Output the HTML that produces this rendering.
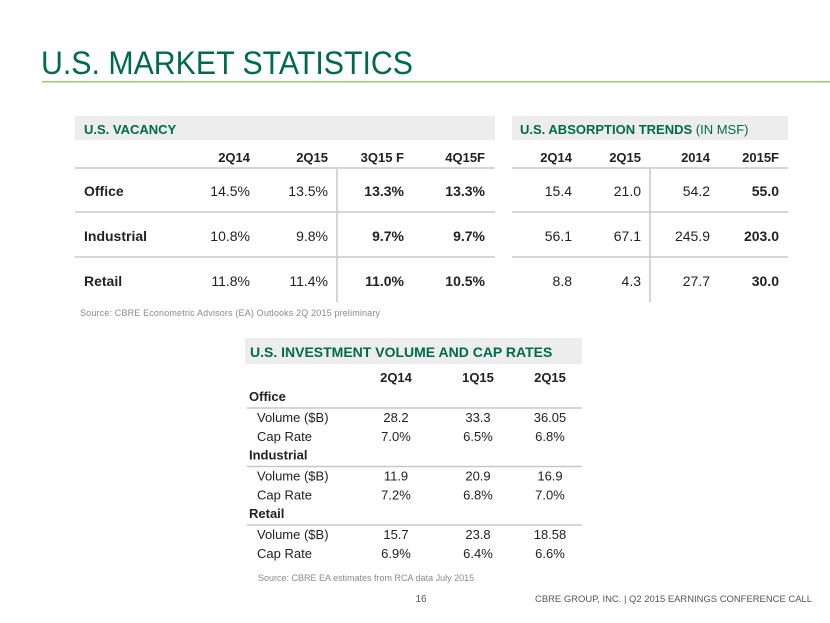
<!DOCTYPE html>
<html><head><meta charset="utf-8"><style>
body{margin:0;background:#fff;}
svg{display:block;font-family:"Liberation Sans",Arial,sans-serif;}
</style></head><body>
<svg width="830" height="623" viewBox="0 0 830 623">
<text x="41" y="74" font-size="32" fill="#006a4d" textLength="372" lengthAdjust="spacingAndGlyphs">U.S. MARKET STATISTICS</text>
<rect x="42" y="81" width="788" height="1.5" fill="#8fd36a"/>
<g id="vac"></g>
<g id="abs"></g>
<g id="inv"></g>
<text x="80" y="316" font-size="9" fill="#8a8a8a" textLength="300" lengthAdjust="spacing">Source:  CBRE Econometric  Advisors  (EA) Outlooks  2Q 2015 preliminary</text>
<text x="258" y="581" font-size="9" fill="#8a8a8a">Source:  CBRE EA estimates  from RCA data July 2015</text>
<text x="421" y="602" font-size="10" fill="#555" text-anchor="middle">16</text>
<text x="812" y="602" font-size="9.5" fill="#555" text-anchor="end" textLength="277" lengthAdjust="spacingAndGlyphs">CBRE GROUP, INC. | Q2 2015 EARNINGS CONFERENCE CALL</text>
</svg>
<script>
const vacCols=["2Q14","2Q15","3Q15 F","4Q15F"];
const vacRows=["Office","Industrial","Retail"];
const vacVals=[["14.5%","13.5%","13.3%","13.3%"],["10.8%","9.8%","9.7%","9.7%"],["11.8%","11.4%","11.0%","10.5%"]];
const absCols=["2Q14","2Q15","2014","2015F"];
const absVals=[["15.4","21.0","54.2","55.0"],["56.1","67.1","245.9","203.0"],["8.8","4.3","27.7","30.0"]];
const invCols=["2Q14","1Q15","2Q15"];
const invGroups=["Office","Industrial","Retail"];
const invVals=[[["Volume ($B)","28.2","33.3","36.05"],["Cap Rate","7.0%","6.5%","6.8%"]],[["Volume ($B)","11.9","20.9","16.9"],["Cap Rate","7.2%","6.8%","7.0%"]],[["Volume ($B)","15.7","23.8","18.58"],["Cap Rate","6.9%","6.4%","6.6%"]]];
const NS="http://www.w3.org/2000/svg";
function el(p,tag,a,txt){const e=document.createElementNS(NS,tag);for(const k in a)e.setAttribute(k,a[k]);if(txt!==undefined)e.textContent=txt;p.appendChild(e);return e;}
function t(p,x,y,s,opt,name){const e=el(p,"text",Object.assign({x:x,y:y,"font-size":14,fill:"#222"},opt),s);


return e;}
function ln(p,x1,y1,x2,y2,name){const e=el(p,"line",{x1:x1,y1:y1,x2:x2,y2:y2,stroke:"#c8c8c8","stroke-width":1.5});

}
function band(p,x,y,w,h,name){const e=el(p,"rect",{x:x,y:y,width:w,height:h,fill:"#ededed"});

}
// vacancy
const V=document.getElementById("vac");
band(V,75,116,420,24,"vacancy-header-band");
t(V,84,134,"U.S. VACANCY",{"font-weight":"bold","font-size":13,fill:"#006a4d"},"vacancy-title");
const vx=[250,328,404,485],rowY=[196,241,286];
vacCols.forEach((c,i)=>t(V,vx[i],162,c,{"text-anchor":"end","font-weight":"bold","font-size":13},"vacancy-col-header"));
ln(V,75,168,495,168,"vacancy-header-rule");ln(V,75,212,495,212,"vacancy-row-rule");ln(V,75,257,495,257,"vacancy-row-rule");
ln(V,337,168,337,302,"vacancy-divider");
vacRows.forEach((r,j)=>{t(V,84,rowY[j],r,{"font-weight":"bold"},"vacancy-row-label");
vacVals[j].forEach((v,i)=>t(V,vx[i],rowY[j],v,{"text-anchor":"end","font-weight":i>=2?"bold":"normal"},"vacancy-cell"));});
// absorption
const A=document.getElementById("abs");
band(A,512,116,276,24,"absorption-header-band");
const at=t(A,520,134,"U.S. ABSORPTION TRENDS",{"font-weight":"bold","font-size":13,fill:"#006a4d"},"absorption-title");
el(at,"tspan",{"font-weight":"normal"}," (IN MSF)");
const ax=[572,641,710,779];
absCols.forEach((c,i)=>t(A,ax[i],162,c,{"text-anchor":"end","font-weight":"bold","font-size":13},"absorption-col-header"));
ln(A,512,168,788,168,"absorption-header-rule");ln(A,512,212,788,212,"absorption-row-rule");ln(A,512,257,788,257,"absorption-row-rule");
ln(A,650,168,650,302,"absorption-divider");
absVals.forEach((row,j)=>row.forEach((v,i)=>t(A,ax[i],rowY[j],v,{"text-anchor":"end","font-weight":i==3?"bold":"normal"},"absorption-cell")));
// investment
const I=document.getElementById("inv");
band(I,245,338,337,26,"investment-header-band");
t(I,250,357,"U.S. INVESTMENT VOLUME  AND CAP RATES",{"font-weight":"bold","font-size":14,fill:"#006a4d"},"investment-title");
const ix=[396,478,550];
invCols.forEach((c,i)=>t(I,ix[i],382,c,{"text-anchor":"middle","font-weight":"bold","font-size":13},"investment-col-header"));
invGroups.forEach((g,k)=>{const y0=401+k*58.5;
t(I,249,y0,g,{"font-weight":"bold","font-size":13},"investment-group-label");
ln(I,247,y0+7,582,y0+7,"investment-group-rule");
invVals[k].forEach((row,r)=>{const y=y0+21+r*19;
t(I,257,y,row[0],{"font-size":13},"investment-row-label");
for(let i=1;i<4;i++)t(I,ix[i-1],y,row[i],{"text-anchor":"middle","font-size":13},"investment-cell");});});
</script>
</body></html>
